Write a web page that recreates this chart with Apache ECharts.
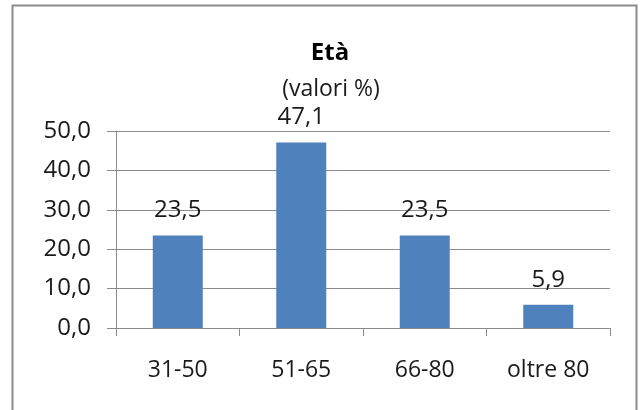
<!DOCTYPE html>
<html>
<head>
<meta charset="utf-8">
<script src="https://cdn.jsdelivr.net/npm/echarts@6/dist/echarts.min.js"></script>
<style>
  html, body { margin: 0; padding: 0; background: #ffffff; }
  #chart { width: 641px; height: 410px; }
</style>
</head>
<body>
<div id="chart"></div>
<script>
// Age bands and share of respondents (%)
const categories = ['31-50', '51-65', '66-80', 'oltre 80'];
const values = [23.5, 47.1, 23.5, 5.9];
const yTicks = [0, 10, 20, 30, 40, 50];

const fmt = v => v.toFixed(1).replace('.', ',');
const FONT = '"Open Sans", "DejaVu Sans", sans-serif';
const TEXT = '#1a1a1a';
const LINE = '#8c8c8c';

const chart = echarts.init(document.getElementById('chart'), null, { renderer: 'canvas' });

chart.setOption({
  animation: false,
  backgroundColor: '#ffffff',
  graphic: [{
    type: 'rect',
    shape: { x: 12.5, y: 5.5, width: 624, height: 420 },
    style: { fill: 'none', stroke: '#8a8a8a', lineWidth: 2 },
    silent: true
  }],
  title: [{
    text: 'Età',
    left: 325,
    top: 36,
    textAlign: 'center',
    textStyle: { fontFamily: FONT, fontSize: 24, fontWeight: 'bold', color: '#000', lineHeight: 24 }
  }, {
    text: '(valori %)',
    left: 326,
    top: 73,
    textAlign: 'center',
    textStyle: { fontFamily: FONT, fontSize: 23, fontWeight: 'normal', color: TEXT, lineHeight: 23 }
  }],
  grid: { left: 116, right: 31, top: 131, bottom: 82, containLabel: false },
  xAxis: {
    type: 'category',
    data: categories,
    boundaryGap: true,
    axisLine: { show: true, lineStyle: { color: LINE, width: 1 } },
    axisTick: { show: true, length: 8, alignWithLabel: false, lineStyle: { color: LINE } },
    axisLabel: { margin: 30, fontFamily: FONT, fontSize: 23, color: TEXT, lineHeight: 24 },
    splitLine: { show: false }
  },
  yAxis: {
    type: 'value',
    min: yTicks[0],
    max: yTicks[yTicks.length - 1],
    interval: yTicks[1] - yTicks[0],
    axisLine: { show: true, lineStyle: { color: LINE, width: 1 } },
    axisTick: { show: true, length: 9, lineStyle: { color: LINE } },
    axisLabel: { margin: 25, fontFamily: FONT, fontSize: 24, color: TEXT, formatter: v => fmt(v) },
    splitLine: { show: true, lineStyle: { color: LINE, width: 1 } }
  },
  series: [{
    type: 'bar',
    data: values,
    barWidth: 50,
    itemStyle: { color: '#4f81bd' },
    label: {
      show: true,
      position: 'top',
      distance: 13,
      fontFamily: FONT,
      fontSize: 24,
      color: TEXT,
      lineHeight: 24,
      formatter: p => fmt(p.value)
    }
  }]
});
</script>
</body>
</html>
